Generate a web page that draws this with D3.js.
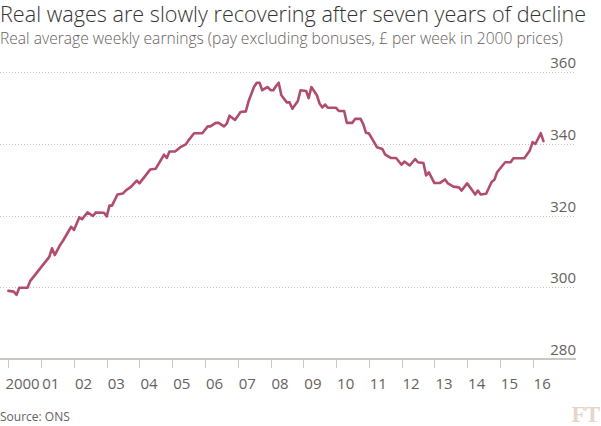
<!DOCTYPE html>
<html><head><meta charset="utf-8">
<script src="https://cdnjs.cloudflare.com/ajax/libs/d3/7.8.5/d3.min.js"></script>
<style>
html,body{margin:0;padding:0;background:#fff;}
svg{display:block;}
</style></head>
<body>
<svg id="chart" width="601" height="426"></svg>
<script>
// ---- data ----
const months = ["2000-01","2000-03","2000-04","2000-05","2000-08","2000-09","2001-04","2001-05","2001-06","2001-08","2001-09","2001-12",
"2002-01","2002-03","2002-04","2002-06","2002-08","2002-09","2002-12","2003-01","2003-02","2003-03","2003-05","2003-07","2003-08","2003-10","2003-12",
"2004-01","2004-05","2004-07","2004-10","2004-11","2004-12","2005-02","2005-04","2005-06","2005-07","2005-09","2005-12",
"2006-02","2006-03","2006-05","2006-06","2006-08","2006-09","2006-10","2006-12","2007-02","2007-04","2007-05","2007-07","2007-08","2007-09","2007-10","2007-12",
"2008-01","2008-02","2008-03","2008-04","2008-05","2008-07","2008-08","2008-09","2008-11","2008-12","2009-02","2009-03","2009-04","2009-06","2009-07","2009-08","2009-09","2009-10",
"2010-01","2010-02","2010-04","2010-05","2010-07","2010-08","2010-10","2010-11","2010-12","2011-01","2011-03","2011-04","2011-06","2011-07","2011-09","2011-11",
"2012-01","2012-02","2012-04","2012-06","2012-07","2012-09","2012-10","2012-11","2013-01","2013-03","2013-05","2013-06","2013-08","2013-10","2013-11",
"2014-01","2014-03","2014-04","2014-05","2014-06","2014-08","2014-10","2014-11","2014-12","2015-03","2015-05","2015-06","2015-10","2015-12",
"2016-01","2016-02","2016-04","2016-05"];
const earnings = [299.0,298.8,297.9,299.9,299.9,301.8,308.5,310.9,309.0,311.9,313.0,316.9,
316.0,319.5,319.0,320.9,319.9,320.9,320.8,319.8,322.8,322.8,325.9,326.2,327.0,328.1,329.8,
329.0,332.9,333.1,337.0,336.1,337.9,337.9,339.1,339.9,341.0,343.0,343.0,
344.9,344.9,345.9,345.9,344.9,345.7,347.9,346.7,348.9,349.1,351.9,355.9,357.1,357.1,355.0,355.9,
355.0,355.0,356.1,357.1,353.6,351.6,351.6,349.8,352.0,355.0,354.8,352.8,355.9,353.6,351.3,350.2,351.0,350.1,
350.1,349.2,349.2,345.9,345.9,347.0,347.0,345.5,343.1,343.0,340.5,339.1,338.6,337.1,336.1,336.1,
334.2,335.1,334.0,335.8,334.9,334.7,331.2,332.1,329.1,329.1,330.1,329.0,328.1,327.9,327.0,
329.0,327.0,325.9,327.0,325.9,326.1,329.4,330.0,332.1,334.9,334.9,336.0,336.0,338.2,
340.5,340.0,343.0,340.8];
const yTicks = [280, 300, 320, 340, 360];
const xYears = [2000,2001,2002,2003,2004,2005,2006,2007,2008,2009,2010,2011,2012,2013,2014,2015,2016];
const xLabels = ["2000","01","02","03","04","05","06","07","08","09","10","11","12","13","14","15","16"];

const title = "Real wages are slowly recovering after seven years of decline";
const subtitle = "Real average weekly earnings (pay excluding bonuses, £ per week in 2000 prices)";
const source = "Source: ONS";

// ---- layout ----
const svg = d3.select("#chart");
const parse = d3.timeParse("%Y-%m");
const data = months.map((m, i) => ({date: parse(m), value: earnings[i]}));

const gridRight = 576;
const x = d3.scaleTime()
  .domain([new Date(2000,0,1), new Date(2016,0,1)])
  .range([8.4, 532.6]);
const y = d3.scaleLinear().domain([280, 360]).range([359, 72.3]);

const font = "'Open Sans', sans-serif";

function fitText(sel, target) {
  const w = sel.node().getComputedTextLength();
  const fs = parseFloat(sel.attr("font-size"));
  sel.attr("font-size", (fs * target / w).toFixed(2));
}

// title / subtitle
const t1 = svg.append("text").attr("x", 0).attr("y", 21.5)
  .attr("font-family", font).attr("font-weight", 300).attr("font-size", 20)
  .attr("fill", "#333").text(title);
fitText(t1, 586);
const t2 = svg.append("text").attr("x", 0).attr("y", 44)
  .attr("font-family", font).attr("font-weight", 300).attr("font-size", 15)
  .attr("fill", "#66605c").text(subtitle);
fitText(t2, 563);

// gridlines
const grid = svg.append("g");
grid.selectAll("line.grid").data(yTicks.filter(d => d !== 280)).join("line")
  .attr("class", "grid")
  .attr("x1", 0).attr("x2", gridRight)
  .attr("y1", d => Math.round(y(d)) + 0.5).attr("y2", d => Math.round(y(d)) + 0.5)
  .attr("stroke", "#c4bfba").attr("stroke-width", 1).attr("stroke-dasharray", "1,2");

// y labels (right side, above gridline)
svg.append("g").selectAll("text").data(yTicks).join("text")
  .attr("x", gridRight).attr("y", d => y(d) - 4)
  .attr("text-anchor", "end")
  .attr("font-family", font).attr("font-size", 15).attr("fill", "#66605c")
  .text(d => d);

// baseline
svg.append("line").attr("x1", 0).attr("x2", gridRight)
  .attr("y1", y(280)).attr("y2", y(280))
  .attr("stroke", "#ccc7c2").attr("stroke-width", 2);

// x axis ticks + labels
const xAxis = svg.append("g");
xAxis.selectAll("line").data(xYears).join("line")
  .attr("x1", d => Math.round(x(new Date(d,0,1))) + 0.5)
  .attr("x2", d => Math.round(x(new Date(d,0,1))) + 0.5)
  .attr("y1", y(280)).attr("y2", y(280) + 9)
  .attr("stroke", "#ccc7c2").attr("stroke-width", 1);
xAxis.selectAll("text").data(xYears).join("text")
  .attr("x", d => x(new Date(d,0,1)) + (d === 2000 ? -3 : 1))
  .attr("y", 389)
  .attr("font-family", font).attr("font-size", 15).attr("fill", "#66605c")
  .text((d, i) => xLabels[i]);

// line
const line = d3.line().x(d => x(d.date)).y(d => y(d.value)).curve(d3.curveLinear);
svg.append("path").datum(data)
  .attr("d", line)
  .attr("fill", "none").attr("stroke", "#b04d6c")
  .attr("stroke-width", 2.6).attr("stroke-linejoin", "round").attr("stroke-linecap", "round");

// source + logo
svg.append("text").attr("x", 0).attr("y", 421)
  .attr("font-family", font).attr("font-size", 12).attr("fill", "#66605c")
  .text(source);
svg.append("text").attr("x", 599).attr("y", 422).attr("text-anchor", "end")
  .attr("font-family", "'Liberation Serif', 'DejaVu Serif', serif").attr("font-weight", 700)
  .attr("font-size", 23).attr("fill", "#e6d6ca").attr("letter-spacing", -1)
  .text("FT");
</script>
</body></html>
